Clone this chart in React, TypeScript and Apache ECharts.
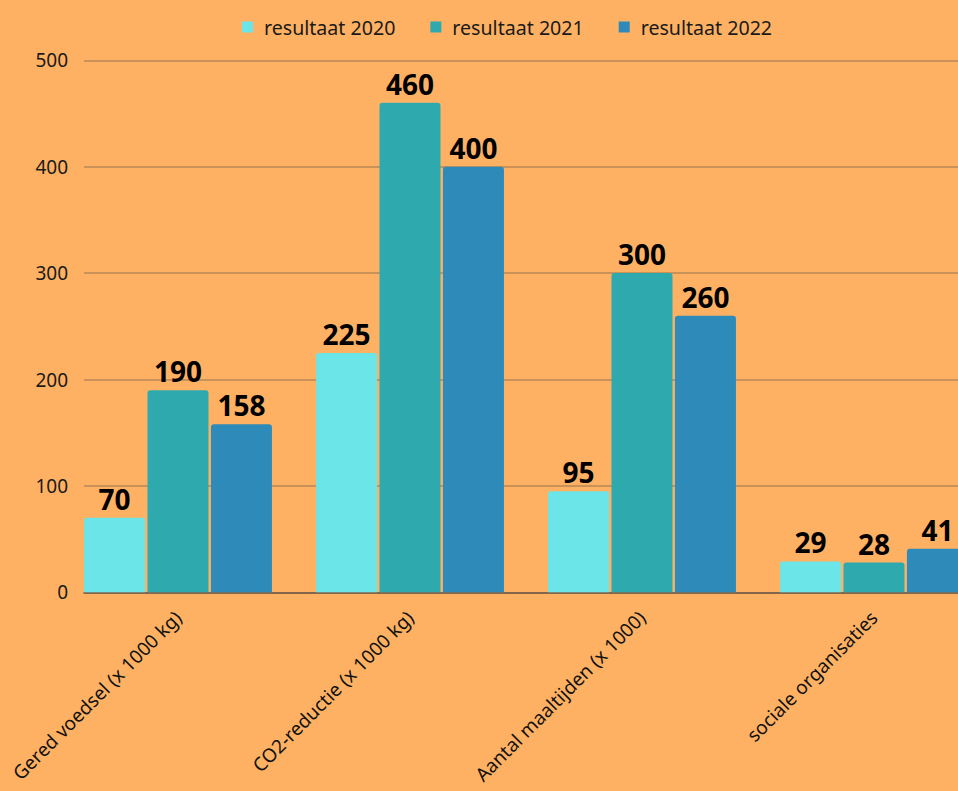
import React, { useEffect, useRef } from "react";
import * as echarts from "echarts";

const categories = [
  "Gered voedsel (x 1000 kg)",
  "CO2-reductie (x 1000 kg)",
  "Aantal maaltijden (x 1000)",
  "sociale organisaties",
];
const seriesNames = ["resultaat 2020", "resultaat 2021", "resultaat 2022"];
const values2020 = [70, 225, 95, 29];
const values2021 = [190, 460, 300, 28];
const values2022 = [158, 400, 260, 41];
const yTicks = [0, 100, 200, 300, 400, 500];

const colors = ["#6CE5E9", "#2EAAAF", "#2E8AB9"];
const FONT = "Noto Sans";

export default function App() {
  const ref = useRef<HTMLDivElement>(null);
  useEffect(() => {
    if (!ref.current) return;
    const chart = echarts.init(ref.current, null, { renderer: "svg" });
    const seriesData = [values2020, values2021, values2022];
    const top = 60.3;
    const bottom = 791 - 592.3;
    chart.setOption({
      animation: false,
      backgroundColor: "#FFB163",
      legend: {
        data: seriesNames,
        left: 237,
        top: 12,
        icon: "rect",
        itemWidth: 11,
        itemHeight: 11,
        itemGap: 35,
        textStyle: {
          fontFamily: FONT,
          fontSize: 19.6,
          color: "#1a1a1a",
          padding: [0, 0, 0, 6],
        },
      },
      grid: [
        { left: 62, right: -32, top, bottom, outerBoundsMode: "none", containLabel: false },
        { left: 84, right: 0, top, bottom, outerBoundsMode: "none", containLabel: false },
      ],
      xAxis: [
        {
          type: "category",
          gridIndex: 0,
          data: categories,
          axisLine: { show: false },
          axisTick: { show: false },
          axisLabel: {
            rotate: 45,
            interval: 0,
            margin: 22,
            fontFamily: FONT,
            fontSize: 19,
            color: "#111",
          },
        },
        {
          type: "value",
          gridIndex: 1,
          min: 0,
          max: 1,
          axisLine: { show: true, lineStyle: { color: "#6b5a48", width: 1.5 } },
          axisTick: { show: false },
          axisLabel: { show: false },
          splitLine: { show: false },
        },
      ],
      yAxis: [
        {
          type: "value",
          gridIndex: 0,
          min: 0,
          max: 500,
          interval: 100,
          show: false,
          splitLine: { show: false },
        },
        {
          type: "value",
          gridIndex: 1,
          min: yTicks[0],
          max: yTicks[yTicks.length - 1],
          interval: 100,
          axisLine: { show: false },
          axisTick: { show: false },
          axisLabel: {
            margin: 16,
            fontFamily: FONT,
            fontSize: 19,
            color: "#1a1a1a",
          },
          splitLine: { lineStyle: { color: "#b98756", width: 1.5 } },
        },
      ],
      series: seriesNames.map((name, i) => ({
        name,
        type: "bar",
        xAxisIndex: 0,
        yAxisIndex: 0,
        data: seriesData[i],
        barWidth: 61,
        barGap: "4%",
        z: 3,
        itemStyle: { color: colors[i], borderRadius: [3, 3, 0, 0] },
        label: {
          show: true,
          position: "top",
          distance: 5,
          fontFamily: FONT,
          fontWeight: "bold",
          fontSize: 28,
          color: "#000",
        },
      })),
    });
    return () => chart.dispose();
  }, []);
  return <div ref={ref} style={{ width: 958, height: 791, position: "absolute", left: 0, top: 0 }} />;
}
